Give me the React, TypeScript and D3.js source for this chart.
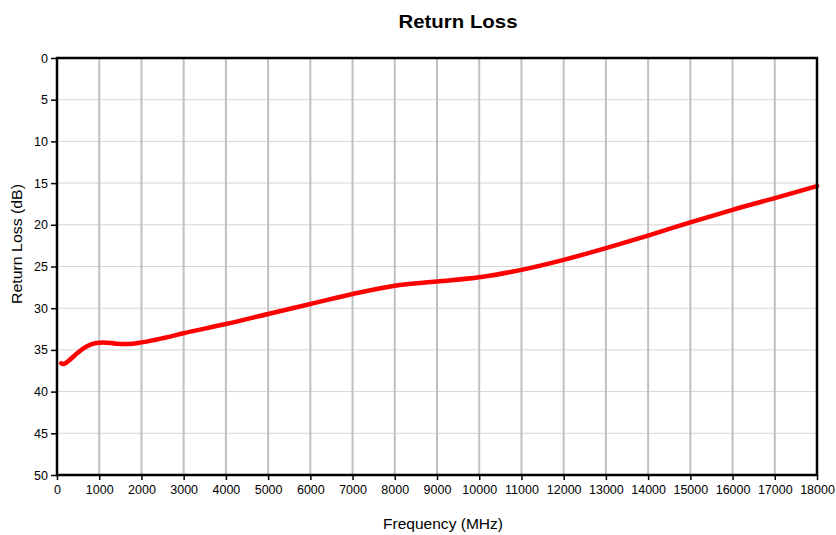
import React, { useEffect, useRef } from 'react';
import * as d3 from 'd3';

const freqs = [100, 150, 300, 500, 700, 900, 1100, 1400, 1700, 2000, 2500, 3000, 4000, 5000, 6000, 7000, 8000, 9000, 10000, 11000, 12000, 13000, 14000, 15000, 16000, 17000, 18000];
const returnLoss = [36.6, 36.7, 36.2, 35.3, 34.6, 34.2, 34.1, 34.25, 34.3, 34.1, 33.6, 33.0, 31.9, 30.7, 29.5, 28.3, 27.3, 26.8, 26.3, 25.4, 24.2, 22.8, 21.3, 19.7, 18.2, 16.8, 15.35];
const xTicks = d3.range(0, 18001, 1000);
const yTicks = d3.range(0, 51, 5);

export default function App() {
  const ref = useRef<SVGSVGElement>(null);

  useEffect(() => {
    const W = 836, H = 535;
    const left = 57, right = 817, top = 58, bottom = 475;
    const svg = d3.select(ref.current);
    svg.selectAll('*').remove();

    const x = d3.scaleLinear().domain([0, 18000]).range([left, right]);
    const y = d3.scaleLinear().domain([0, 50]).range([top, bottom]);

    svg.append('rect').attr('width', W).attr('height', H).attr('fill', '#fff');

    // horizontal grid
    svg.append('g')
      .selectAll('line')
      .data(yTicks.slice(1, -1))
      .enter()
      .append('line')
      .attr('x1', left).attr('x2', right)
      .attr('y1', d => y(d)).attr('y2', d => y(d))
      .attr('stroke', '#d6d6d6').attr('stroke-width', 1);

    // vertical grid
    svg.append('g')
      .selectAll('line')
      .data(xTicks.slice(1, -1))
      .enter()
      .append('line')
      .attr('x1', d => x(d)).attr('x2', d => x(d))
      .attr('y1', top).attr('y2', bottom)
      .attr('stroke', '#c0c0c0').attr('stroke-width', 2);

    // curve
    const pts = freqs.map((f, i) => [f, returnLoss[i]] as [number, number]);
    const line = d3.line<[number, number]>()
      .x(d => x(d[0]))
      .y(d => y(d[1]))
      .curve(d3.curveMonotoneX);
    svg.append('path')
      .datum(pts)
      .attr('d', line)
      .attr('fill', 'none')
      .attr('stroke', '#ff0000')
      .attr('stroke-width', 4.5)
      .attr('stroke-linecap', 'round')
      .attr('stroke-linejoin', 'round');

    // frame
    svg.append('rect')
      .attr('x', left).attr('y', top)
      .attr('width', right - left).attr('height', bottom - top)
      .attr('fill', 'none').attr('stroke', '#000').attr('stroke-width', 2.5);

    const font = 'Liberation Sans, Arial, sans-serif';

    // y axis
    const yAxis = d3.axisLeft(y).tickValues(yTicks).tickSize(6).tickPadding(3);
    const gy = svg.append('g').attr('transform', `translate(${left},0)`).call(yAxis);
    gy.select('.domain').remove();
    gy.selectAll('line').attr('stroke', '#000').attr('stroke-width', 1.5);
    gy.selectAll('text').attr('font-family', font).attr('font-size', 12.5).attr('fill', '#000');

    // x axis
    const xAxis = d3.axisBottom(x).tickValues(xTicks).tickSize(5).tickPadding(5).tickFormat(d3.format('d'));
    const gx = svg.append('g').attr('transform', `translate(0,${bottom})`).call(xAxis);
    gx.select('.domain').remove();
    gx.selectAll('line').attr('stroke', '#000').attr('stroke-width', 1.5);
    gx.selectAll('text').attr('font-family', font).attr('font-size', 12.5).attr('fill', '#000');

    // titles
    svg.append('text')
      .attr('x', 458).attr('y', 28)
      .attr('text-anchor', 'middle')
      .attr('font-family', font).attr('font-weight', 'bold').attr('font-size', 18)
      .attr('textLength', 119).attr('lengthAdjust', 'spacingAndGlyphs')
      .text('Return Loss');

    svg.append('text')
      .attr('x', 443).attr('y', 529)
      .attr('text-anchor', 'middle')
      .attr('font-family', font).attr('font-size', 14)
      .attr('textLength', 120).attr('lengthAdjust', 'spacingAndGlyphs')
      .text('Frequency (MHz)');

    svg.append('text')
      .attr('transform', 'translate(22,244) rotate(-90)')
      .attr('text-anchor', 'middle')
      .attr('font-family', font).attr('font-size', 14)
      .attr('textLength', 120).attr('lengthAdjust', 'spacingAndGlyphs')
      .text('Return Loss (dB)');
  }, []);

  return (
    <svg ref={ref} width={836} height={535}
      style={{ position: 'absolute', left: 0, top: 0, display: 'block' }} />
  );
}
